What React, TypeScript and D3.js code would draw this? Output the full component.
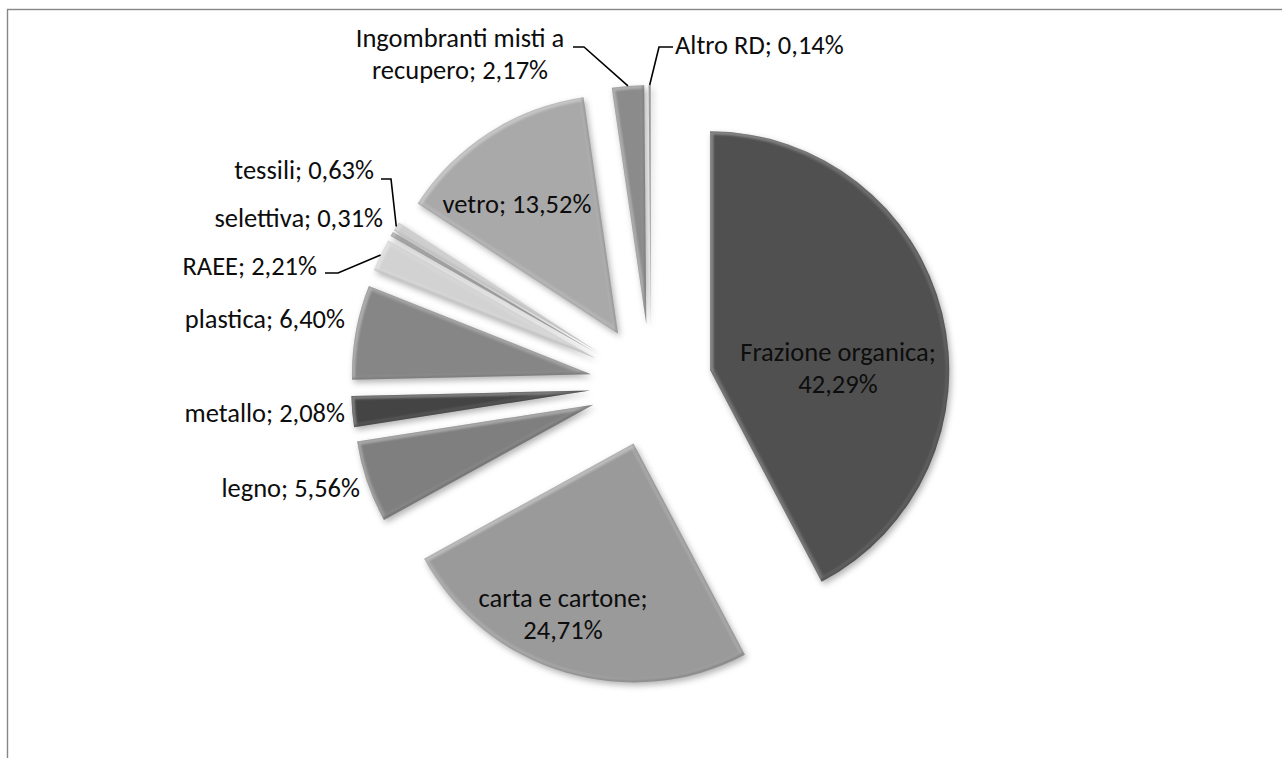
import React from "react";
import * as d3 from "d3";

// ---- data ----
const categories = [
  "Frazione organica",
  "carta e cartone",
  "legno",
  "metallo",
  "plastica",
  "RAEE",
  "selettiva",
  "tessili",
  "vetro",
  "Ingombranti misti a recupero",
  "Altro RD",
];
const values = [42.29, 24.71, 5.56, 2.08, 6.4, 2.21, 0.31, 0.63, 13.52, 2.17, 0.14];
const valueLabels = ["42,29%", "24,71%", "5,56%", "2,08%", "6,40%", "2,21%", "0,31%", "0,63%", "13,52%", "2,17%", "0,14%"];

// ---- styling / layout (kept apart from data) ----
const fills = ["#505050", "#9a9a9a", "#7f7f7f", "#444444", "#868686", "#d2d2d2", "#a6a6a6", "#c6c6c6", "#a9a9a9", "#8b8b8b", "#a0a0a0"];

type LabelLayout = {
  lines: (name: string, v: string) => string[];
  x: number;
  y: number;
  anchor: "start" | "middle" | "end";
  leader?: [number, number][]; // label-side points; final point is computed on slice edge
};

const labelLayout: LabelLayout[] = [
  { lines: (n, v) => [n + ";", v], x: 838, y: 361, anchor: "middle" },
  { lines: (n, v) => [n + ";", v], x: 563, y: 607, anchor: "middle" },
  { lines: (n, v) => [n + "; " + v], x: 360, y: 497, anchor: "end" },
  { lines: (n, v) => [n + "; " + v], x: 345, y: 422, anchor: "end" },
  { lines: (n, v) => [n + "; " + v], x: 345, y: 328, anchor: "end" },
  { lines: (n, v) => [n + "; " + v], x: 317, y: 275, anchor: "end", leader: [[325, 273], [338, 273]] },
  { lines: (n, v) => [n + "; " + v], x: 383, y: 227, anchor: "end" },
  { lines: (n, v) => [n + "; " + v], x: 374, y: 179, anchor: "end", leader: [[381, 179], [391, 179]] },
  { lines: (n, v) => [n + "; " + v], x: 517, y: 213, anchor: "middle" },
  { lines: () => ["Ingombranti misti a", "recupero; 2,17%"], x: 460, y: 47, anchor: "middle", leader: [[573, 47], [584, 47]] },
  { lines: (n, v) => [n + "; " + v], x: 675, y: 54, anchor: "start", leader: [[673, 47], [659, 47]] },
];

const W = 1282;
const H = 758;
const CX = 651;
const CY = 385;
const R = 239;
const EXPLODE = 61;
const FONT = "Carlito, Calibri, Lato, sans-serif";
const FONT_SIZE = 26.5;
const LINE_H = 31.5;

export default function App() {
  const pie = d3
    .pie<number>()
    .sort(null)
    .startAngle(0)
    .endAngle(2 * Math.PI)
    .value((d) => d);
  const arcs = pie(values);
  const arcGen = d3.arc<d3.PieArcDatum<number>>().innerRadius(0).outerRadius(R);

  const slices = arcs.map((a, i) => {
    const mid = (a.startAngle + a.endAngle) / 2;
    const ox = CX + EXPLODE * Math.sin(mid);
    const oy = CY - EXPLODE * Math.cos(mid);
    const edge: [number, number] = [ox + R * Math.sin(mid), oy - R * Math.cos(mid)];
    return { a, i, ox, oy, edge, path: arcGen(a) || "" };
  });

  return (
    <svg
      width={W}
      height={H}
      viewBox={`0 0 ${W} ${H}`}
      style={{ position: "absolute", left: 0, top: 0, display: "block" }}
    >
      <defs>
        <filter
          id="bevel"
          filterUnits="userSpaceOnUse"
          x={-W}
          y={-H}
          width={2 * W}
          height={2 * H}
          colorInterpolationFilters="sRGB"
        >
          {/* drop shadow */}
          <feGaussianBlur in="SourceAlpha" stdDeviation={3} result="sb" />
          <feOffset in="sb" dx={2} dy={3} result="so" />
          <feFlood floodColor="#000" floodOpacity={0.3} result="sf" />
          <feComposite in="sf" in2="so" operator="in" result="shadow" />
          {/* uniform inner rim */}
          <feMorphology in="SourceAlpha" operator="erode" radius={3} result="er" />
          <feComposite in="SourceAlpha" in2="er" operator="out" result="rim" />
          <feGaussianBlur in="rim" stdDeviation={1} result="rimb" />
          <feFlood floodColor="#fff" floodOpacity={0.16} result="rf" />
          <feComposite in="rf" in2="rimb" operator="in" result="rim1" />
          <feComposite in="rim1" in2="SourceAlpha" operator="in" result="rimL" />
          {/* top-left highlight */}
          <feOffset in="SourceAlpha" dx={3} dy={3} result="o1" />
          <feComposite in="SourceAlpha" in2="o1" operator="out" result="hb" />
          <feGaussianBlur in="hb" stdDeviation={0.8} result="hbb" />
          <feFlood floodColor="#fff" floodOpacity={0.22} result="hf" />
          <feComposite in="hf" in2="hbb" operator="in" result="h1" />
          <feComposite in="h1" in2="SourceAlpha" operator="in" result="hl" />
          {/* bottom-right darkening */}
          <feOffset in="SourceAlpha" dx={-2} dy={-2} result="o2" />
          <feComposite in="SourceAlpha" in2="o2" operator="out" result="db" />
          <feGaussianBlur in="db" stdDeviation={0.8} result="dbb" />
          <feFlood floodColor="#000" floodOpacity={0.22} result="df" />
          <feComposite in="df" in2="dbb" operator="in" result="d1" />
          <feComposite in="d1" in2="SourceAlpha" operator="in" result="dk" />
          <feMerge>
            <feMergeNode in="shadow" />
            <feMergeNode in="SourceGraphic" />
            <feMergeNode in="rimL" />
            <feMergeNode in="hl" />
            <feMergeNode in="dk" />
          </feMerge>
        </filter>
      </defs>

      <rect x={0} y={0} width={W} height={H} fill="#fff" />
      {/* chart frame */}
      <rect x={7.5} y={9.5} width={W + 40} height={H + 40} fill="none" stroke="#878787" strokeWidth={1.4} />

      {/* slices */}
      <g>
        {slices.map((s) => (
          <path
            key={categories[s.i]}
            d={s.path}
            transform={`translate(${s.ox},${s.oy})`}
            fill={fills[s.i]}
            filter="url(#bevel)"
          />
        ))}
      </g>

      {/* leader lines */}
      <g fill="none" stroke="#000" strokeWidth={1.6}>
        {slices.map((s) => {
          const L = labelLayout[s.i];
          if (!L.leader) return null;
          const pts: [number, number][] = [...L.leader, s.edge];
          return <path key={"ld" + s.i} d={d3.line()(pts) || ""} />;
        })}
      </g>

      {/* labels */}
      <g fontFamily={FONT} fontSize={FONT_SIZE} fill="#0d0d0d">
        {slices.map((s) => {
          const L = labelLayout[s.i];
          const lines = L.lines(categories[s.i], valueLabels[s.i]);
          return (
            <text key={"lb" + s.i} x={L.x} y={L.y} textAnchor={L.anchor}>
              {lines.map((t, k) => (
                <tspan key={k} x={L.x} y={L.y + k * LINE_H}>
                  {t}
                </tspan>
              ))}
            </text>
          );
        })}
      </g>
    </svg>
  );
}
